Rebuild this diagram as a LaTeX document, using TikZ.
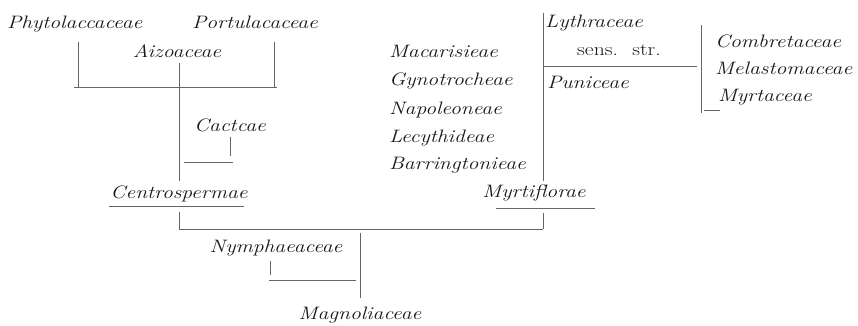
\documentclass[tikz,border=0pt]{standalone}
\usepackage{graphicx}
\newcommand\wtxt[1]{\scalebox{1.2}[1]{#1}}
\tikzset{
  lab/.style={inner sep=0pt, outer sep=0pt, font=\fontsize{18}{21}\selectfont\itshape, text=black!90},
  ln/.style={draw=black!60, line width=0.7pt},
}
\begin{document}
\begin{tikzpicture}[x=1pt,y=-1pt]
\useasboundingbox (0,0) rectangle (858,326);
% texts
\node[lab, anchor=base west] (phy) at (7,29) {\wtxt{Phytolaccaceae}};
\node[lab, anchor=base] (por) at (255,29) {\wtxt{Portulacaceae}};
\node[lab, anchor=base] (aiz) at (177,58) {\wtxt{Aizoaceae}};
\node[lab, anchor=base] (cac) at (230,131) {\wtxt{Cactcae}};
\node[lab, anchor=base] (cen) at (179,198) {\wtxt{Centrospermae}};
\node[lab, anchor=base west] (mac) at (389,58) {\wtxt{Macarisieae}};
\node[lab, anchor=base west] (gyn) at (389,86) {\wtxt{Gynotrocheae}};
\node[lab, anchor=base west] (nap) at (389,114) {\wtxt{Napoleoneae}};
\node[lab, anchor=base west] (lec) at (389,142) {\wtxt{Lecythideae}};
\node[lab, anchor=base west] (bar) at (389,169) {\wtxt{Barringtonieae}};
\node[lab, anchor=base] (myr) at (534,197) {\wtxt{Myrtiflorae}};
\node[lab, anchor=base west] (lyt) at (545,28) {\wtxt{Lythraceae}};
\node[lab, anchor=base, font=\fontsize{18}{21}\selectfont\upshape] (sens) at (619,56) {\wtxt{sens.\hspace{12pt}str.}};
\node[lab, anchor=base west] (pun) at (547,89) {\wtxt{Puniceae}};
\node[lab, anchor=base west] (com) at (715,48) {\wtxt{Combretaceae}};
\node[lab, anchor=base west] (mel) at (715,75) {\wtxt{Melastomaceae}};
\node[lab, anchor=base west] (myt) at (718,102) {\wtxt{Myrtaceae}};
\node[lab, anchor=base] (nym) at (276,252) {\wtxt{Nymphaeaceae}};
\node[lab, anchor=base] (mag) at (360,319) {\wtxt{Magnoliaceae}};
% junction points
\coordinate (pa) at (78,42);   \coordinate (pb) at (78,87);
\coordinate (qa) at (274,42);  \coordinate (qb) at (274,87);
\coordinate (za) at (179,63);  \coordinate (zb) at (179,87);
\coordinate (h1l) at (74,87);  \coordinate (h1r) at (277,87);
\coordinate (cv) at (179,181);
\coordinate (ka) at (230,137); \coordinate (kb) at (230,156);
\coordinate (kl) at (184,162); \coordinate (kr) at (233,162);
\coordinate (ul) at (109,206); \coordinate (ur) at (244,206);
\coordinate (da) at (179,212); \coordinate (db) at (179,229);
\coordinate (br) at (543,229);
\coordinate (ma) at (543,13);  \coordinate (mb) at (543,181);
\coordinate (mc) at (543,213);
\coordinate (mul) at (496,208); \coordinate (mur) at (595,208);
\coordinate (ll) at (544,66);  \coordinate (lr) at (697,66);
\coordinate (ra) at (701,25);  \coordinate (rb) at (701,113);
\coordinate (sa) at (704,110); \coordinate (sb) at (720,110);
\coordinate (na) at (360,233); \coordinate (nb) at (360,298);
\coordinate (nc) at (270,261); \coordinate (nd) at (270,275);
\coordinate (nl) at (269,280); \coordinate (nr) at (356,280);
% lines
\draw[ln] (pa) -- (pb);
\draw[ln] (qa) -- (qb);
\draw[ln] (za) -- (zb);
\draw[ln] (h1l) -- (h1r);
\draw[ln] (zb) -- (cv);
\draw[ln] (ka) -- (kb);
\draw[ln] (kl) -- (kr);
\draw[ln] (ul) -- (ur);
\draw[ln] (da) -- (db);
\draw[ln] (db) -- (br);
\draw[ln] (ma) -- (mb);
\draw[ln] (mc) -- (br);
\draw[ln] (mul) -- (mur);
\draw[ln] (ll) -- (lr);
\draw[ln] (ra) -- (rb);
\draw[ln] (sa) -- (sb);
\draw[ln] (na) -- (nb);
\draw[ln] (nc) -- (nd);
\draw[ln] (nl) -- (nr);
\end{tikzpicture}
\end{document}
